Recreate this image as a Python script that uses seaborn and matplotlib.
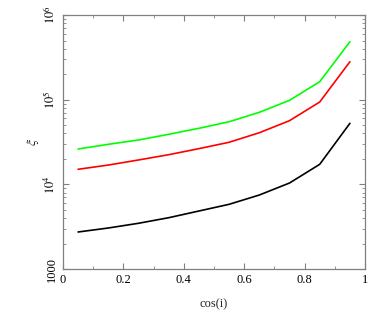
import matplotlib
matplotlib.use("Agg")
import matplotlib.pyplot as plt
from matplotlib.ticker import (FixedLocator, FixedFormatter, FuncFormatter,
                               LogLocator, MultipleLocator, NullFormatter)
import numpy as np
import pandas as pd
import seaborn as sns

# ── Data ──────────────────────────────────────────────────────────────────────
cos_i = [0.05, 0.15, 0.25, 0.35, 0.45, 0.55, 0.65, 0.75, 0.85, 0.95]
xi_green = [26150, 29700, 33400, 39000, 45900, 54900, 70900, 98300, 163000, 484000]
xi_red = [15060, 16900, 19400, 22400, 26400, 31400, 40700, 56500, 93900, 281000]
xi_black = [2736, 3050, 3467, 4036, 4842, 5810, 7480, 10370, 17240, 52600]

series = {"green": xi_green, "red": xi_red, "black": xi_black}
colors = {"green": "#00ff00", "red": "#ff0000", "black": "#000000"}

ytick_vals = [1e3, 1e4, 1e5, 1e6]
ytick_labels = ["1000", r"$10^4$", r"$10^5$", r"$10^6$"]

df = pd.concat(
    [pd.DataFrame({"cos_i": cos_i, "xi": v, "model": k}) for k, v in series.items()],
    ignore_index=True,
)

sns.set_style("ticks")
plt.rcParams["font.family"] = ["Liberation Serif", "DejaVu Serif"]
plt.rcParams["mathtext.fontset"] = "stix"

fig = plt.figure(figsize=(3.74, 3.34), dpi=100)
ax = fig.add_axes([0.1684, 0.1946, 0.8076, 0.7604])

sns.lineplot(data=df, x="cos_i", y="xi", hue="model", palette=colors,
             ax=ax, legend=False, linewidth=1.2)

ax.set_yscale("log")
ax.set_xlim(0, 1)
ax.set_ylim(1e3, 1e6)

ax.xaxis.set_major_locator(MultipleLocator(0.2))
ax.xaxis.set_minor_locator(MultipleLocator(0.1))
ax.xaxis.set_major_formatter(FuncFormatter(lambda v, p: f"{v:g}"))

ax.yaxis.set_major_locator(FixedLocator(ytick_vals))
ax.yaxis.set_major_formatter(FixedFormatter(ytick_labels))
ax.yaxis.set_minor_locator(LogLocator(base=10, subs=np.arange(2, 10)))
ax.yaxis.set_minor_formatter(NullFormatter())

gray = "#808080"
for s in ax.spines.values():
    s.set_color(gray)
    s.set_linewidth(0.9)
ax.tick_params(which="both", direction="in", top=True, right=True, colors=gray,
               labelcolor="black", labelsize=9)
ax.tick_params(which="major", length=4, width=0.8)
ax.tick_params(which="minor", length=2.5, width=0.6)
for lab in ax.get_yticklabels():
    lab.set_rotation(90)
    lab.set_va("center")

ax.set_xlabel("cos(i)", fontsize=9, labelpad=9)
ax.set_ylabel(r"$\xi$", fontsize=10, labelpad=1)

fig.savefig("out.png", dpi=100)
plt.close(fig)
